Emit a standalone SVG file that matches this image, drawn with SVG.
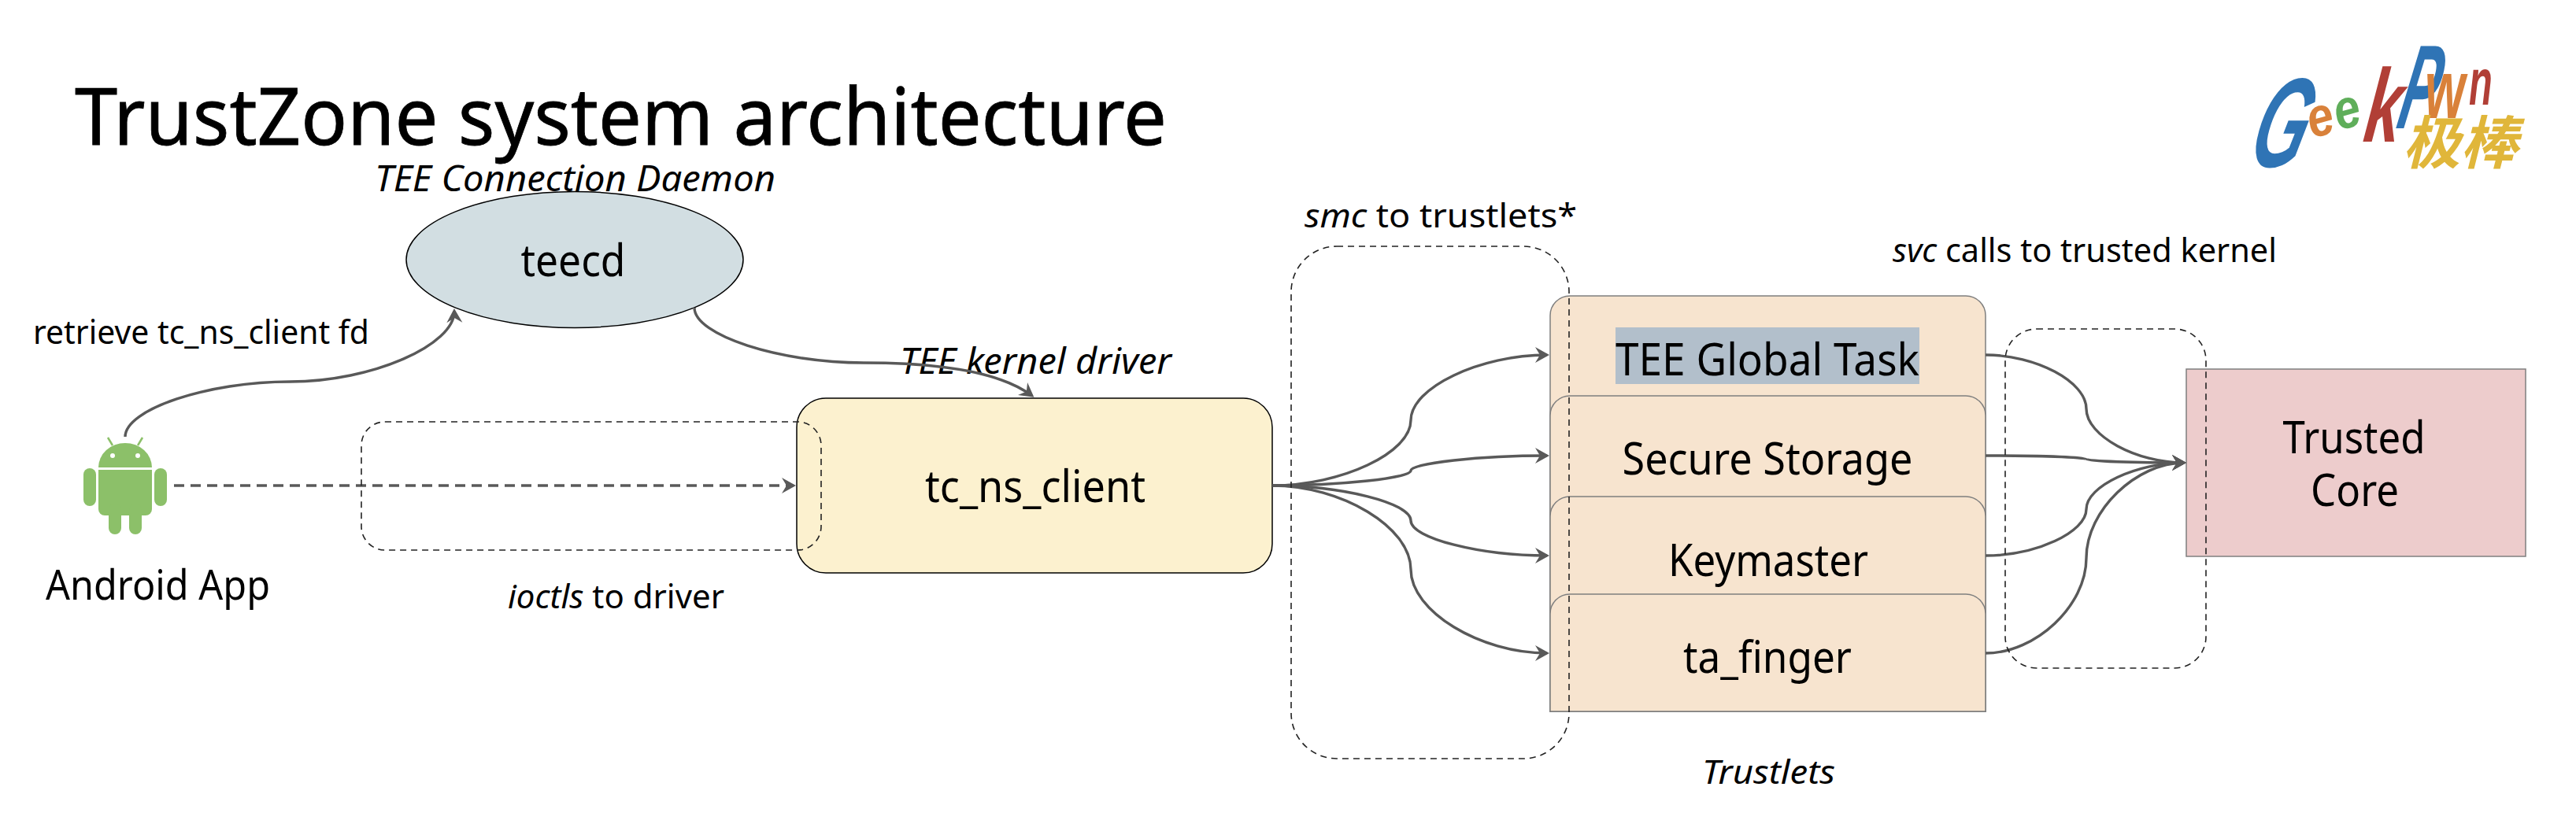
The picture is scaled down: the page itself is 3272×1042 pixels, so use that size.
<svg xmlns="http://www.w3.org/2000/svg" width="3272" height="1042" viewBox="0 0 3272 1042">
<style>
text{font-family:"Noto Sans","Open Sans","Noto Sans CJK SC",sans-serif;fill:#000}
.i{font-style:italic}
.l{font-size:56px;text-anchor:middle}
.s{font-size:42px}
.m{font-size:46px}
.n{stroke:#000;stroke-width:1.5}
.t{fill:#f7e4cf;stroke:#7f7f7f;stroke-width:1.5}
.c{fill:none;stroke:#595959;stroke-width:3.400;marker-end:url(#a)}
.d{fill:none;stroke:#222;stroke-width:1.6;stroke-dasharray:8 6}
.g{fill:#8cc069}
.lg{font-family:"Liberation Sans",sans-serif;font-weight:bold;font-style:italic}
</style>
<defs>
<marker id="a" markerUnits="userSpaceOnUse" markerWidth="40" markerHeight="40" orient="auto" refX="0" refY="0" overflow="visible" style="overflow:visible">
<path d="M-15,-10L3,0L-15,10L-9,0Z" fill="#595959"/>
</marker>
</defs>
<rect width="3272" height="1042" fill="#fff"/>
<text id="title" x="95" y="184" font-size="100" stroke="#000" stroke-width="0.800" textLength="1387" lengthAdjust="spacingAndGlyphs">TrustZone system architecture</text>

<g id="logo">
<text class="lg" transform="translate(2852 212) skewX(-16) scale(0.58 1.08)" font-size="150" style="fill:#2f74b5">G</text>
<text class="lg" transform="translate(2937 176) rotate(-16) scale(0.85 1)" font-size="70" style="fill:#d9813a">e</text>
<text class="lg" transform="translate(2971 166) rotate(-16) scale(0.85 1)" font-size="70" style="fill:#5fae5a">e</text>
<text class="lg" transform="translate(3000 180) skewX(-8) scale(0.62 1)" font-size="132" style="fill:#b13f36">k</text>
<text class="lg" transform="translate(3042 163) skewX(-12) scale(0.46 1)" font-size="152" style="fill:#2f74b5">P</text>
<text class="lg" transform="translate(3080 150) scale(0.62 1)" font-size="106" style="fill:#d9813a">w</text>
<text class="lg" transform="translate(3136 133) scale(0.58 1)" font-size="84" style="fill:#b13f36">n</text>
<text class="lg" transform="translate(3052 208)" font-size="73" style="fill:#e0b63a;font-family:'Noto Sans CJK SC',sans-serif">极棒</text>
</g>

<g id="teecd">
<ellipse cx="730" cy="330" rx="214" ry="86.500" class="n" fill="#d2dee2"/>
<text x="728" y="351" class="l" textLength="133" lengthAdjust="spacingAndGlyphs">teecd</text>
</g>
<text id="teecd-label" x="476" y="243" class="m i" textLength="509" lengthAdjust="spacingAndGlyphs">TEE Connection Daemon</text>

<g id="android">
<path class="g" d="M125,594a34,31 0 0 1 68,0Z"/>
<rect class="g" x="125" y="597" width="68" height="50"/>
<path class="g" d="M125,640h68v7a8,8 0 0 1-8,8h-52a8,8 0 0 1-8-8Z"/>
<rect class="g" x="106" y="595" width="16" height="48" rx="8"/>
<rect class="g" x="196" y="595" width="16" height="48" rx="8"/>
<rect class="g" x="138" y="640" width="16" height="39" rx="8"/>
<rect class="g" x="164" y="640" width="16" height="39" rx="8"/>
<path d="M137,556L143,566M181,556L175,566" stroke="#8cc069" stroke-width="2.500" fill="none"/>
<circle cx="143" cy="579" r="3" fill="#fff"/>
<circle cx="175" cy="579" r="3" fill="#fff"/>
<text x="58" y="762" font-size="52" textLength="285" lengthAdjust="spacingAndGlyphs">Android App</text>
</g>

<g id="tc_ns_client">
<rect x="1012" y="506" width="604" height="222" rx="37" class="n" fill="#fcf1cf"/>
<text x="1315" y="638" class="l" textLength="280" lengthAdjust="spacingAndGlyphs">tc_ns_client</text>
</g>
<text id="driver-label" x="1143" y="475" class="m i" textLength="345" lengthAdjust="spacingAndGlyphs">TEE kernel driver</text>

<g id="trustlets">
<g id="tee-global-task">
<path class="t" d="M1969,904V401a25,25 0 0 1 25-25H2497a25,25 0 0 1 25,25V904Z"/>
<rect x="2052" y="416" width="386" height="72" fill="#b2bfcb"/>
<text x="2245" y="477" class="l" textLength="386" lengthAdjust="spacingAndGlyphs">TEE Global Task</text>
</g>
<g id="secure-storage">
<path class="t" d="M1969,904V528a25,25 0 0 1 25-25H2497a25,25 0 0 1 25,25V904Z"/>
<text x="2245" y="603" class="l" textLength="369" lengthAdjust="spacingAndGlyphs">Secure Storage</text>
</g>
<g id="keymaster">
<path class="t" d="M1969,904V656a25,25 0 0 1 25-25H2497a25,25 0 0 1 25,25V904Z"/>
<text x="2246" y="732" class="l" textLength="254" lengthAdjust="spacingAndGlyphs">Keymaster</text>
</g>
<g id="ta_finger">
<path class="t" d="M1969,904V780a25,25 0 0 1 25-25H2497a25,25 0 0 1 25,25V904Z"/>
<text x="2245" y="855" class="l" textLength="214" lengthAdjust="spacingAndGlyphs">ta_finger</text>
</g>
</g>
<text id="trustlets-label" x="2162" y="996" class="s i" textLength="169" lengthAdjust="spacingAndGlyphs">Trustlets</text>

<g id="trusted-core">
<rect x="2777" y="469" width="431" height="238" fill="#edcccc" stroke="#7f7f7f" stroke-width="1.500"/>
<text x="2990" y="576" class="l" textLength="181" lengthAdjust="spacingAndGlyphs">Trusted</text>
<text x="2991" y="643" class="l" textLength="112" lengthAdjust="spacingAndGlyphs">Core</text>
</g>

<g id="connectors">
<path class="c" d="M159,555C159,520 264,485 368.500,485C473,485 578,438 577,395"/>
<path class="c" d="M882,391C882,426 990,461 1097,461C1190,461 1270,472 1311,503"/>
<path class="c" style="stroke-dasharray:13 8" d="M221,617H1008"/>
<path class="c" d="M1616,617C1704,617 1792,575.500 1792,534C1792,492.500 1880,451 1965,451"/>
<path class="c" d="M1616,617C1704,617 1792,607.500 1792,598C1792,588.500 1880,579 1965,579"/>
<path class="c" d="M1616,617C1704,617 1792,639 1792,661.500C1792,684 1880,706 1965,706"/>
<path class="c" d="M1616,617C1704,617 1792,670 1792,723.500C1792,777 1880,830 1965,830"/>
<path class="c" d="M2522,451C2586,451 2650,485 2650,519.500C2650,554 2714,588 2774,588"/>
<path class="c" d="M2522,579C2586,579 2650,581 2650,583.500C2650,586 2714,588 2774,588"/>
<path class="c" d="M2522,706C2586,706 2650,676.500 2650,647C2650,617.500 2714,588 2774,588"/>
<path class="c" d="M2522,830C2586,830 2650,769.500 2650,709C2650,648.500 2714,588 2774,588"/>
</g>

<g id="groups">
<rect class="d" x="459" y="536" width="584" height="163" rx="30"/>
<rect class="d" x="1640" y="313" width="353" height="651" rx="58"/>
<rect class="d" x="2547" y="418" width="255" height="431" rx="40"/>
</g>

<text id="retrieve-label" x="42" y="437" class="s" textLength="427" lengthAdjust="spacingAndGlyphs">retrieve tc_ns_client fd</text>
<text id="ioctls-label" x="645" y="773" class="s" textLength="275" lengthAdjust="spacingAndGlyphs"><tspan class="i">ioctls</tspan> to driver</text>
<text id="smc-label" x="1657" y="289" class="s" textLength="346" lengthAdjust="spacingAndGlyphs"><tspan class="i">smc</tspan> to trustlets*</text>
<text id="svc-label" x="2404" y="333" class="s" textLength="488" lengthAdjust="spacingAndGlyphs"><tspan class="i">svc</tspan> calls to trusted kernel</text>
</svg>
